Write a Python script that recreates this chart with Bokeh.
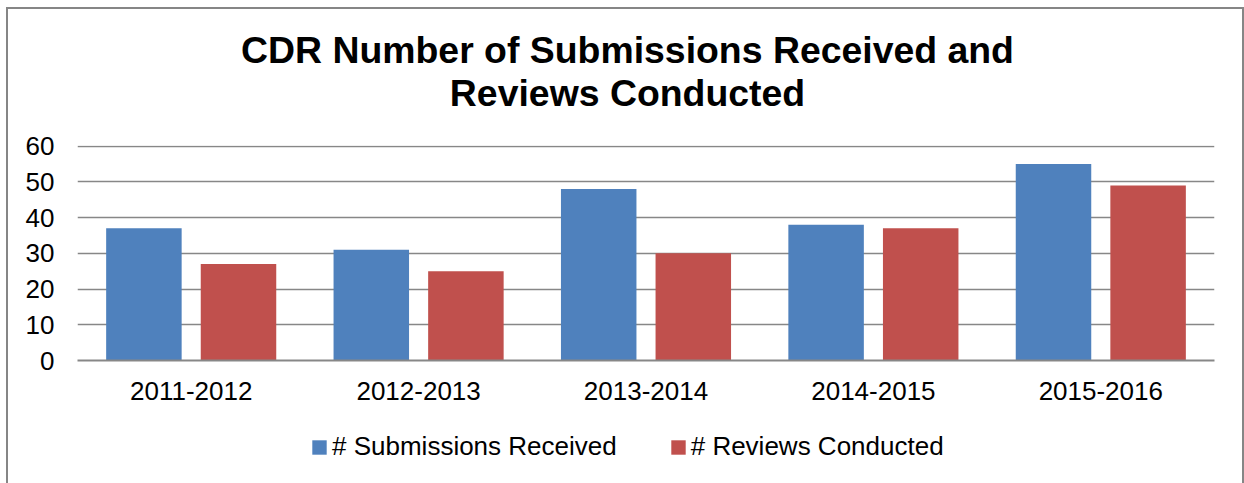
from bokeh.plotting import figure
from bokeh.layouts import column
from bokeh.models import (ColumnDataSource, FactorRange, Legend, LegendItem, Label,
                          SingleIntervalTicker, Range1d)
from bokeh.transform import dodge
from bokeh.embed import file_html
from bokeh.resources import INLINE

# ---- data ----
periods = ["2011-2012", "2012-2013", "2013-2014", "2014-2015", "2015-2016"]
submissions_received = [37, 31, 48, 38, 55]
reviews_conducted = [27, 25, 30, 37, 49]
series_names = ["# Submissions Received", "# Reviews Conducted"]
title_lines = ["CDR Number of Submissions Received and", "Reviews Conducted"]

BLUE = "#4F81BD"
RED = "#C0504D"
GRID = "#878787"
FONT = "Liberation Sans"
W = 1234


def blank(h):
    f = figure(width=W, height=h, title=None, x_axis_type=None, y_axis_type=None,
               x_range=Range1d(0, W), y_range=Range1d(0, h),
               output_backend="svg", toolbar_location=None,
               min_border=0, min_border_left=0, min_border_right=0,
               min_border_top=0, min_border_bottom=0,
               background_fill_color="white", border_fill_color="white")
    f.frame_align = False
    f.outline_line_color = None
    f.xgrid.visible = False
    f.ygrid.visible = False
    return f


# ---- title strip ----
t = blank(121)
for txt, yy in zip(title_lines, [81, 38]):
    t.add_layout(Label(x=619, y=yy, text=txt, text_align="center",
                       text_baseline="alphabetic", text_font=FONT,
                       text_font_size="37.4px", text_font_style="bold",
                       text_color="black"))

# ---- main chart ----
source = ColumnDataSource(dict(period=periods, sub=submissions_received, rev=reviews_conducted))

p = figure(
    x_range=FactorRange(*periods, range_padding=0),
    y_range=Range1d(0, 60.2),
    width=W, height=290, title=None,
    output_backend="svg", toolbar_location=None,
    min_border_left=69, min_border_right=28,
    min_border_top=15, min_border_bottom=60,
    background_fill_color="white", border_fill_color="white",
)
p.frame_align = False
p.outline_line_color = None

r1 = p.vbar(x=dodge("period", -0.208, range=p.x_range), top="sub", width=0.332,
            source=source, fill_color=BLUE, line_color=None)
r2 = p.vbar(x=dodge("period", 0.208, range=p.x_range), top="rev", width=0.332,
            source=source, fill_color=RED, line_color=None)

p.yaxis.ticker = SingleIntervalTicker(interval=10)
p.yaxis.axis_line_color = None
p.yaxis.major_tick_line_color = None
p.yaxis.minor_tick_line_color = None
p.yaxis.major_tick_out = 0
p.yaxis.major_tick_in = 0
p.yaxis.major_label_standoff = 19
p.yaxis.major_label_text_font = FONT
p.yaxis.major_label_text_font_size = "26px"
p.yaxis.major_label_text_color = "black"

p.xaxis.axis_line_color = GRID
p.xaxis.axis_line_width = 2
p.xaxis.major_tick_line_color = None
p.xaxis.major_tick_out = 0
p.xaxis.major_tick_in = 0
p.xaxis.major_label_standoff = 21
p.xaxis.major_label_text_font = FONT
p.xaxis.major_label_text_font_size = "26px"
p.xaxis.major_label_text_color = "black"

p.xgrid.grid_line_color = None
p.ygrid.grid_line_color = GRID
p.ygrid.grid_line_width = 1.6

# ---- legend strip (zero-height key bars only serve as legend swatches) ----
lg = blank(65)
key_src = ColumnDataSource(dict(x=[0], top=[0]))
k1 = lg.vbar(x="x", top="top", width=0, source=key_src, fill_color=BLUE, line_color=None)
k2 = lg.vbar(x="x", top="top", width=0, source=key_src, fill_color=RED, line_color=None)
legend = Legend(
    items=[LegendItem(label=series_names[0], renderers=[k1]),
           LegendItem(label=series_names[1], renderers=[k2])],
    location=(302, 23), orientation="horizontal",
    padding=0, margin=0, spacing=52, label_standoff=4,
    glyph_width=18, glyph_height=18, label_height=26,
    label_text_font=FONT, label_text_font_size="26px", label_text_color="black",
    border_line_color=None, background_fill_alpha=0,
)
lg.add_layout(legend, "center")

layout = column(t, p, lg, spacing=0)
layout.margin = (7, 0, 0, 6)
layout.styles = {
    "border-top": "2px solid #868686",
    "border-left": "2px solid #868686",
    "border-right": "2px solid #868686",
}

open("out.html", "w").write(file_html(layout, INLINE))
